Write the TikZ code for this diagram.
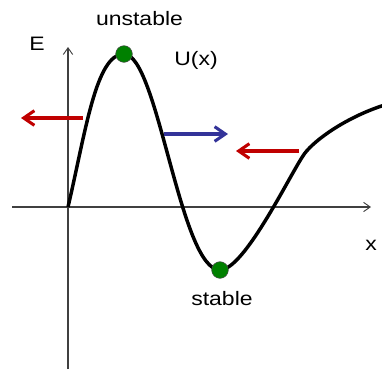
\documentclass[tikz,border=0pt]{standalone}
\usepackage{fontspec}
\setmainfont{Liberation Sans}
\usetikzlibrary{arrows.meta}
\definecolor{myred}{RGB}{192,0,0}
\definecolor{myblue}{RGB}{51,51,153}
\definecolor{mygreen}{RGB}{0,128,0}
\newcommand{\lbl}[1]{\scalebox{1.18}[1]{\fontsize{14.6pt}{16pt}\selectfont #1}}
\begin{document}
\begin{tikzpicture}[x=0.75pt,y=-0.75pt,
  axis/.style={draw=black!75, line width=0.8pt, -{Straight Barb[length=5pt,width=7pt,line width=0.7pt]}},
  force/.style={line width=2.5pt, -{Straight Barb[length=8pt,width=11pt,line width=2.3pt]}},
  dot/.style={circle, fill=mygreen, draw=black!70, line width=0.4pt, minimum size=12.5pt, inner sep=0pt},
  txt/.style={inner sep=0pt}]
\useasboundingbox (0,0) rectangle (382,369);
% axes
\coordinate (xs) at (12,207);
\coordinate (xe) at (371,207);
\coordinate (ys) at (68,369);
\coordinate (ye) at (68,47);
\draw[axis] (xs) -- (xe);
\draw[axis] (ys) -- (ye);
% curve
\coordinate (o) at (68,207);
\coordinate (pk) at (124,54);
\coordinate (mn) at (220,270);
\coordinate (kn) at (305,153);
\coordinate (re) at (383,105.5);
\draw[line width=2.6pt, line join=round]
  (o) .. controls (86,130) and (96,54) .. (pk)
      .. controls (158,54) and (180,270) .. (mn)
      .. controls (245,270) and (292,170) .. (kn)
      .. controls (315,140) and (345,118) .. (re);
% dots
\node[dot] (unst) at (pk) {};
\node[dot] (st) at (mn) {};
% force arrows
\coordinate (r1s) at (83,118); \coordinate (r1e) at (21,118);
\coordinate (bs) at (164,134); \coordinate (be) at (228,134);
\coordinate (r2s) at (299,151); \coordinate (r2e) at (236,151);
\draw[force, myred] (r1s) -- (r1e);
\draw[force, myblue] (bs) -- (be);
\draw[force, myred] (r2s) -- (r2e);
% labels
\node[txt] (lu) at (139.5,19) {\lbl{unstable}};
\node[txt] (le) at (37,44) {\lbl{E}};
\node[txt] (lU) at (196,60) {\lbl{U(x)}};
\node[txt] (lx) at (371,245) {\lbl{x}};
\node[txt] (ls) at (222,299) {\lbl{stable}};
\end{tikzpicture}
\end{document}
